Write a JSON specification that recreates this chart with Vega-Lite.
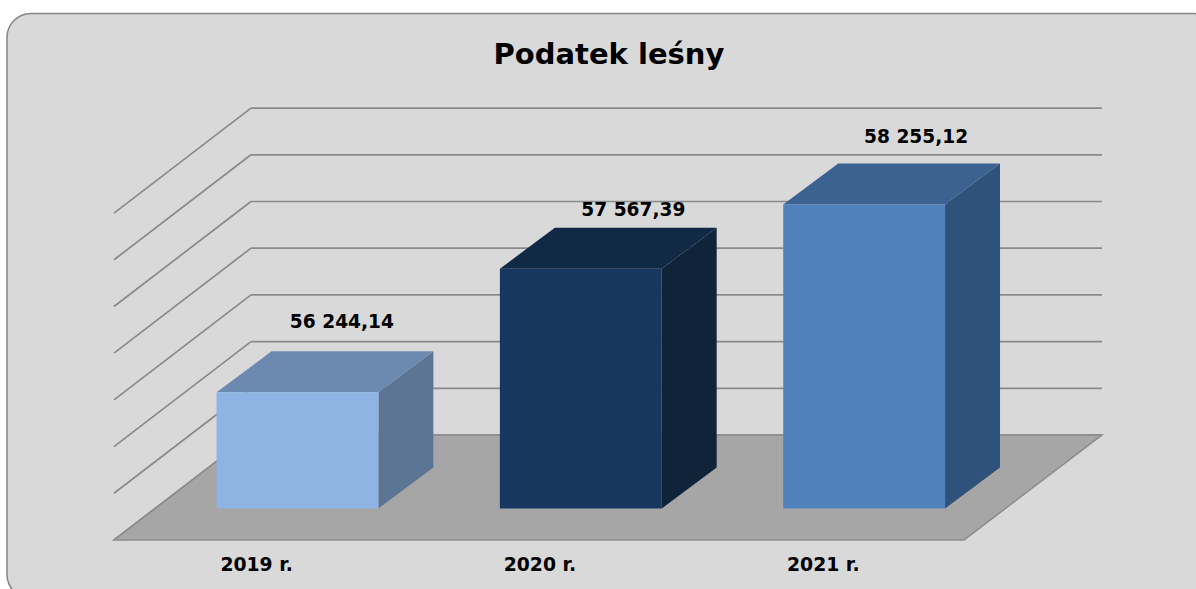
{"$schema":"https://vega.github.io/schema/vega-lite/v6.json","width":1210,"height":585,"autosize":"none","padding":{"left":7,"top":13.5,"right":0,"bottom":0},"background":"#ffffff","view":{"fill":"#d9d9d9","stroke":"#858585","strokeWidth":1.5,"cornerRadius":24},"config":{"axis":{"disable":true},"legend":{"disable":true}},"title":{"text":"Podatek leśny","font":"DejaVu Sans","fontWeight":"bold","fontSize":29,"color":"#000000","anchor":"middle","orient":"top","baseline":"alphabetic","offset":-79,"dx":-3},"datasets":{"bars":[{"year":"2019 r.","slot":0,"value":56244.14,"label":"56 244,14"},{"year":"2020 r.","slot":1,"value":57567.39,"label":"57 567,39"},{"year":"2021 r.","slot":2,"value":58255.12,"label":"58 255,12"}],"grid":[{"level":55000},{"level":55500},{"level":56000},{"level":56500},{"level":57000},{"level":57500},{"level":58000},{"level":58500}]},"layer":[{"data":{"name":"grid"},"transform":[{"calculate":"datum.level+1124.2","as":"back"},{"calculate":"0","as":"a"},{"calculate":"0.4835","as":"b"}],"mark":{"type":"rule","stroke":"#8a8a8a","strokeWidth":1.7},"encoding":{"x":{"field":"a","type":"quantitative","scale":{"domain":[-0.3776,3.893]}},"x2":{"field":"b"},"y":{"field":"level","type":"quantitative","scale":{"domain":[54373.6,60637]}},"y2":{"field":"back"}}},{"data":{"name":"grid"},"transform":[{"calculate":"datum.level+1124.2","as":"back"},{"calculate":"0.4835","as":"a"},{"calculate":"3.487","as":"b"}],"mark":{"type":"rule","stroke":"#8a8a8a","strokeWidth":1.7},"encoding":{"x":{"field":"a","type":"quantitative","scale":{"domain":[-0.3776,3.893]}},"x2":{"field":"b"},"y":{"field":"back","type":"quantitative","scale":{"domain":[54373.6,60637]}}}},{"data":{"name":"grid"},"transform":[{"filter":"datum.level===55000"},{"calculate":"[0,1]","as":"t"},{"flatten":["t"]},{"calculate":"datum.t*0.4835","as":"a"},{"calculate":"3+datum.t*0.487","as":"b"},{"calculate":"datum.level+datum.t*1124.2","as":"yy"}],"mark":{"type":"area","orient":"horizontal","fill":"#a6a6a6","stroke":"#8a8a8a","strokeWidth":1.5},"encoding":{"x":{"field":"a","type":"quantitative","scale":{"domain":[-0.3776,3.893]}},"x2":{"field":"b"},"y":{"field":"yy","type":"quantitative","scale":{"domain":[54373.6,60637]}}}},{"data":{"name":"bars"},"transform":[{"calculate":"datum.year+' side'","as":"face"},{"calculate":"[0,1]","as":"t"},{"flatten":["t"]},{"calculate":"datum.slot+0.9332+datum.t*0.194","as":"xx"},{"calculate":"55337+datum.t*439","as":"lo"},{"calculate":"datum.value+337+datum.t*439","as":"hi"}],"mark":{"type":"area"},"encoding":{"x":{"field":"xx","type":"quantitative","scale":{"domain":[-0.3776,3.893]}},"y":{"field":"hi","type":"quantitative","scale":{"domain":[54373.6,60637]}},"y2":{"field":"lo"},"fill":{"field":"face","type":"nominal","scale":{"domain":["2019 r. side","2020 r. side","2021 r. side","2019 r. top","2020 r. top","2021 r. top","2019 r. front","2020 r. front","2021 r. front"],"range":["#5c7594","#0f2339","#2f527a","#6c89af","#122945","#3b6290","#8eb4e3","#17375e","#4f81bd"]}}}},{"data":{"name":"bars"},"transform":[{"calculate":"datum.year+' top'","as":"face"},{"calculate":"[0,1]","as":"t"},{"flatten":["t"]},{"calculate":"datum.slot+0.362+datum.t*0.194","as":"xa"},{"calculate":"datum.slot+0.9332+datum.t*0.194","as":"xb"},{"calculate":"datum.value+337+datum.t*439","as":"yy"}],"mark":{"type":"area","orient":"horizontal"},"encoding":{"x":{"field":"xa","type":"quantitative","scale":{"domain":[-0.3776,3.893]}},"x2":{"field":"xb"},"y":{"field":"yy","type":"quantitative","scale":{"domain":[54373.6,60637]}},"fill":{"field":"face","type":"nominal","scale":{"domain":["2019 r. side","2020 r. side","2021 r. side","2019 r. top","2020 r. top","2021 r. top","2019 r. front","2020 r. front","2021 r. front"],"range":["#5c7594","#0f2339","#2f527a","#6c89af","#122945","#3b6290","#8eb4e3","#17375e","#4f81bd"]}}}},{"data":{"name":"bars"},"transform":[{"calculate":"datum.year+' front'","as":"face"},{"calculate":"datum.slot+0.362","as":"xa"},{"calculate":"datum.slot+0.9332","as":"xb"},{"calculate":"datum.value+337","as":"hi"},{"calculate":"55337","as":"lo"}],"mark":{"type":"rect"},"encoding":{"x":{"field":"xa","type":"quantitative","scale":{"domain":[-0.3776,3.893]}},"x2":{"field":"xb"},"y":{"field":"hi","type":"quantitative","scale":{"domain":[54373.6,60637]}},"y2":{"field":"lo"},"fill":{"field":"face","type":"nominal","scale":{"domain":["2019 r. side","2020 r. side","2021 r. side","2019 r. top","2020 r. top","2021 r. top","2019 r. front","2020 r. front","2021 r. front"],"range":["#5c7594","#0f2339","#2f527a","#6c89af","#122945","#3b6290","#8eb4e3","#17375e","#4f81bd"]}}}},{"data":{"name":"bars"},"transform":[{"calculate":"datum.slot+0.5","as":"xx"},{"calculate":"55000","as":"yy"}],"mark":{"type":"text","font":"DejaVu Sans","fontWeight":"bold","fontSize":18.8,"color":"#000000","dx":1,"dy":25,"baseline":"middle"},"encoding":{"x":{"field":"xx","type":"quantitative","scale":{"domain":[-0.3776,3.893]}},"y":{"field":"yy","type":"quantitative","scale":{"domain":[54373.6,60637]}},"text":{"field":"year"}}},{"data":{"name":"bars"},"transform":[{"filter":"datum.slot===0"},{"calculate":"datum.slot+0.6475+0.194","as":"xx"},{"calculate":"datum.value+781.6","as":"yy"}],"mark":{"type":"text","font":"DejaVu Sans","fontWeight":"bold","fontSize":18.6,"color":"#000000","dx":-10.5,"dy":-28.3,"baseline":"middle"},"encoding":{"x":{"field":"xx","type":"quantitative","scale":{"domain":[-0.3776,3.893]}},"y":{"field":"yy","type":"quantitative","scale":{"domain":[54373.6,60637]}},"text":{"field":"label"}}},{"data":{"name":"bars"},"transform":[{"filter":"datum.slot===1"},{"calculate":"datum.slot+0.6475+0.194","as":"xx"},{"calculate":"datum.value+781.6","as":"yy"}],"mark":{"type":"text","font":"DejaVu Sans","fontWeight":"bold","fontSize":18.6,"color":"#000000","dx":-2.4,"dy":-17,"baseline":"middle"},"encoding":{"x":{"field":"xx","type":"quantitative","scale":{"domain":[-0.3776,3.893]}},"y":{"field":"yy","type":"quantitative","scale":{"domain":[54373.6,60637]}},"text":{"field":"label"}}},{"data":{"name":"bars"},"transform":[{"filter":"datum.slot===2"},{"calculate":"datum.slot+0.6475+0.194","as":"xx"},{"calculate":"datum.value+781.6","as":"yy"}],"mark":{"type":"text","font":"DejaVu Sans","fontWeight":"bold","fontSize":18.6,"color":"#000000","dx":-3,"dy":-25.7,"baseline":"middle"},"encoding":{"x":{"field":"xx","type":"quantitative","scale":{"domain":[-0.3776,3.893]}},"y":{"field":"yy","type":"quantitative","scale":{"domain":[54373.6,60637]}},"text":{"field":"label"}}}]}
